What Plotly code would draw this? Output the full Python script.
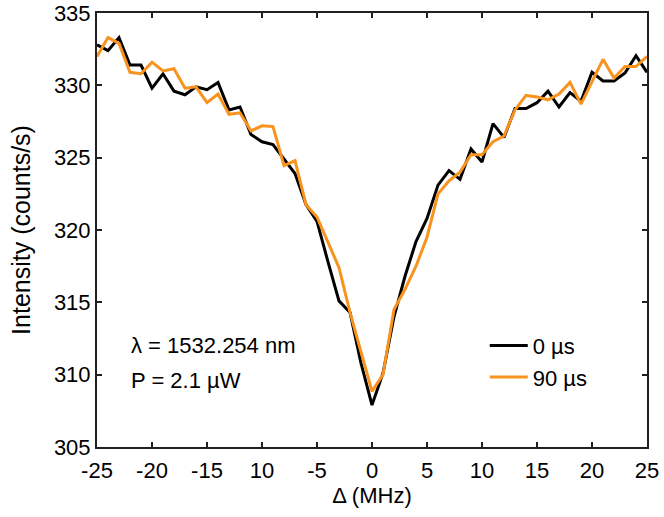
import plotly.graph_objects as go

detuning = list(range(-25, 26))

intensity_0us = [
    332.8, 332.4, 333.3, 331.4, 331.4, 329.8, 330.8, 329.6, 329.35, 329.9,
    329.7, 330.2, 328.3, 328.5, 326.6, 326.1, 325.9, 324.9, 323.9, 321.75,
    320.6, 317.8, 315.1, 314.3, 310.8, 307.9, 310.1, 314.0, 316.8, 319.2,
    320.8, 323.1, 324.1, 323.5, 325.6, 324.7, 327.35, 326.4, 328.4, 328.4,
    328.8, 329.6, 328.5, 329.5, 328.9, 330.9, 330.3, 330.3, 330.85, 332.05,
    330.9,
]

intensity_90us = [
    332.0, 333.3, 332.9, 330.9, 330.8, 331.6, 331.0, 331.15, 329.8, 329.9,
    328.8, 329.4, 328.0, 328.1, 326.85, 327.2, 327.15, 324.45, 324.8, 321.75,
    320.9, 319.2, 317.4, 314.3, 311.5, 308.85, 310.0, 314.5, 315.9, 317.5,
    319.5, 322.5, 323.4, 324.0, 325.2, 325.2, 326.1, 326.5, 328.3, 329.3,
    329.2, 329.0, 329.4, 330.2, 328.7, 330.2, 331.8, 330.5, 331.3, 331.3,
    332.0,
]

x_tickvals = [-25, -20, -15, -10, -5, 0, 5, 10, 15, 20, 25]
x_ticktext = ["-25", "-20", "-15", "10", "-5", "0", "5", "10", "15", "20", "25"]
y_tickvals = [305, 310, 315, 320, 325, 330, 335]

series_names = ["0 µs", "90 µs"]
series_colors = ["#000000", "#F7931E"]

FONT = "Liberation Sans, Arial, Helvetica, sans-serif"
AX = "#231f20"

fig = go.Figure()
for name, ys, col in zip(series_names, [intensity_0us, intensity_90us], series_colors):
    fig.add_trace(go.Scatter(x=detuning, y=ys, mode="lines", name=name,
                             line=dict(color=col, width=3)))

axis_common = dict(showgrid=False, zeroline=False, showline=True, linecolor=AX,
                   linewidth=2, ticks="inside", ticklen=5, tickwidth=1.5,
                   tickcolor=AX, mirror="ticks", automargin=False,
                   ticklabeloverflow="allow",
                   tickfont=dict(family=FONT, size=22, color="#000"))

fig.update_xaxes(range=[-25, 25], tickvals=x_tickvals, ticktext=x_ticktext,
                 ticklabelstandoff=3,
                 title=dict(text="Δ (MHz)", font=dict(family=FONT, size=22, color="#000"),
                            standoff=2),
                 **axis_common)
fig.update_yaxes(range=[305, 335], tickvals=y_tickvals,
                 title=dict(text="Intensity (counts/s)", font=dict(family=FONT, size=25, color="#000"),
                            standoff=16),
                 **axis_common)

fig.add_annotation(x=0.058, y=0.233, xref="paper", yref="paper", xanchor="left",
                   yanchor="middle", showarrow=False, text="λ = 1532.254 nm",
                   font=dict(family=FONT, size=22, color="#000"))
fig.add_annotation(x=0.058, y=0.154, xref="paper", yref="paper", xanchor="left",
                   yanchor="middle", showarrow=False, text="P = 2.1 µW",
                   font=dict(family=FONT, size=22, color="#000"))

fig.update_layout(
    width=664, height=517,
    margin=dict(l=97, r=17, t=13, b=70),
    paper_bgcolor="white", plot_bgcolor="white",
    font=dict(family=FONT, size=22, color="#000"),
    legend=dict(x=0.705, y=0.282, xanchor="left", yanchor="top", itemwidth=38,
                bgcolor="rgba(0,0,0,0)", font=dict(family=FONT, size=22)),
)

fig.write_html("out.html", config={"displayModeBar": False},
               post_script="document.body.style.margin='0';document.body.style.overflow='hidden';")
